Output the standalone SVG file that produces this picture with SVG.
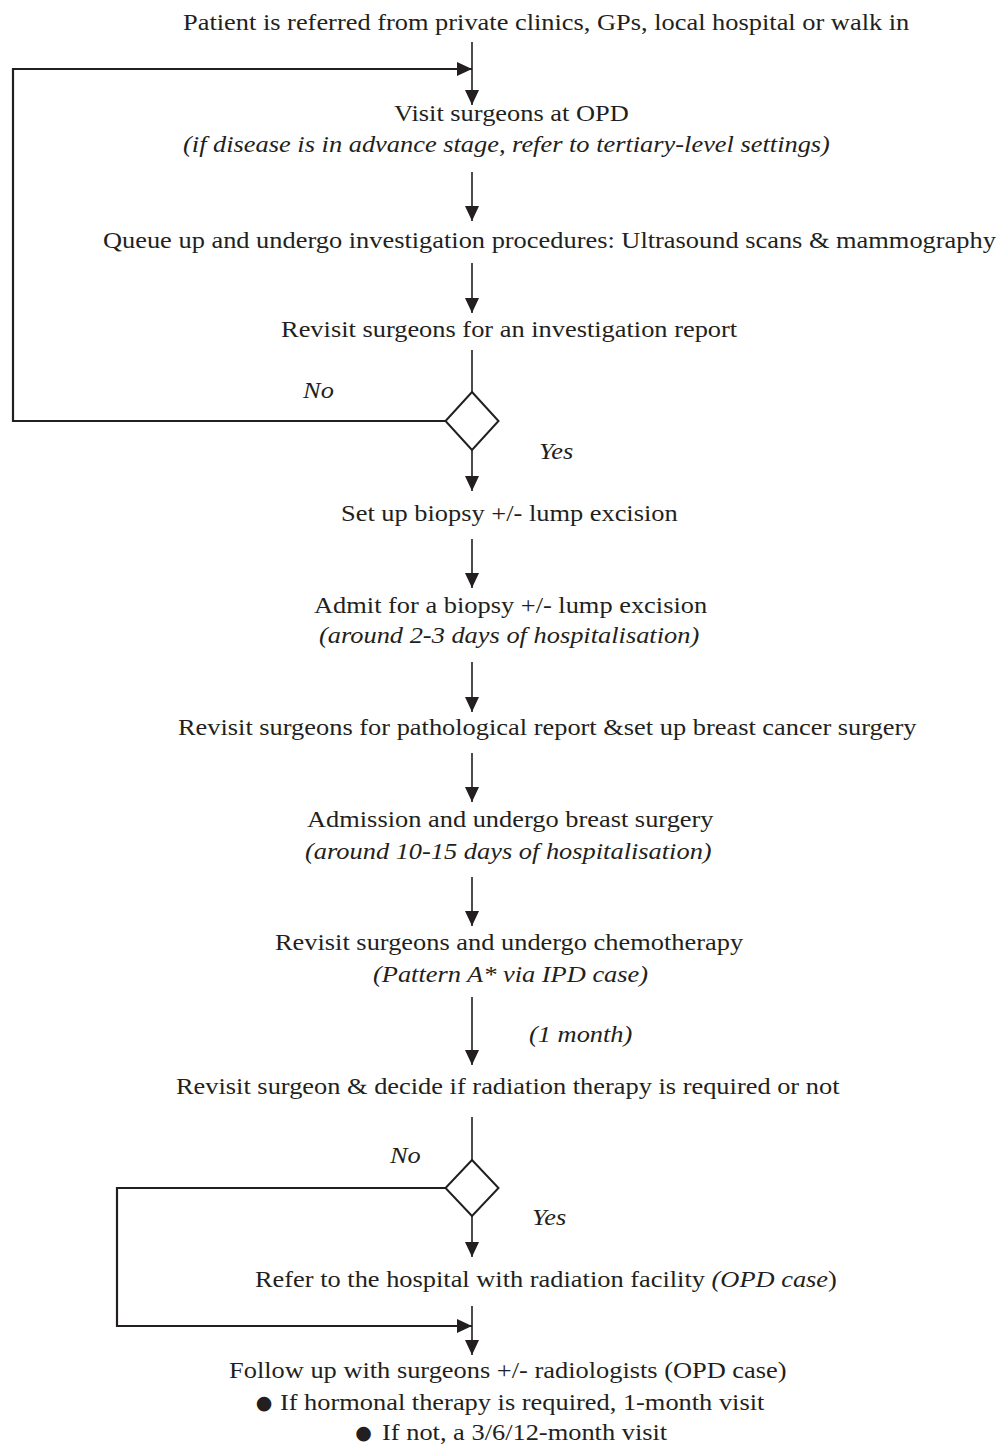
<svg xmlns="http://www.w3.org/2000/svg" width="1005" height="1446" viewBox="0 0 1005 1446">
<defs>
<marker id="ah" markerUnits="userSpaceOnUse" markerWidth="16" markerHeight="14" refX="15" refY="7" orient="auto">
<path d="M0,0 L15,7 L0,14 z" fill="#231f20"/>
</marker>
<style>
.t{font-family:"Liberation Serif","Times New Roman",serif;font-size:24px;fill:#231f20}
.i{font-style:italic}
.c{fill:none;stroke:#231f20;stroke-width:1.6}
.h{fill:none;stroke:#231f20;stroke-width:2.2}
.d{fill:#fff;stroke:#231f20;stroke-width:2}
.b{font-family:"DejaVu Sans",sans-serif;font-size:19px;fill:#231f20}
</style>
</defs>
<rect width="1005" height="1446" fill="#fff"/>
<g id="connectors">
<line class="c" x1="472" y1="42" x2="472" y2="105" marker-end="url(#ah)"/>
<polyline class="h" points="446,421 13,421 13,69 472,69" marker-end="url(#ah)"/>
<line class="c" x1="472" y1="172" x2="472" y2="221" marker-end="url(#ah)"/>
<line class="c" x1="472" y1="263" x2="472" y2="313" marker-end="url(#ah)"/>
<line class="c" x1="472" y1="350" x2="472" y2="392"/>
<line class="c" x1="472" y1="450" x2="472" y2="491" marker-end="url(#ah)"/>
<line class="c" x1="472" y1="539" x2="472" y2="588" marker-end="url(#ah)"/>
<line class="c" x1="472" y1="662" x2="472" y2="712" marker-end="url(#ah)"/>
<line class="c" x1="472" y1="753" x2="472" y2="802" marker-end="url(#ah)"/>
<line class="c" x1="472" y1="877" x2="472" y2="926" marker-end="url(#ah)"/>
<line class="c" x1="472" y1="997" x2="472" y2="1065" marker-end="url(#ah)"/>
<line class="c" x1="472" y1="1117" x2="472" y2="1160"/>
<line class="c" x1="472" y1="1216" x2="472" y2="1257" marker-end="url(#ah)"/>
<line class="c" x1="472" y1="1306" x2="472" y2="1355" marker-end="url(#ah)"/>
<polyline class="h" points="446,1188 117,1188 117,1326 472,1326" marker-end="url(#ah)"/>
</g>
<g id="decision1"><polygon class="d" points="472,392 498.5,421 472,450 445.5,421"/></g>
<g id="decision2"><polygon class="d" points="472,1160 498.5,1188 472,1216 445.5,1188"/></g>
<g transform="scale(1.1,1)">
<g id="start"><text class="t" x="166.4" y="30">Patient is referred from private clinics, GPs, local hospital or walk in</text></g>
<g id="visit"><text class="t" x="358.2" y="121">Visit surgeons at OPD</text>
<text class="t i" x="166.4" y="152">(if disease is in advance stage, refer to tertiary-level settings)</text></g>
<g id="queue"><text class="t" x="93.6" y="248">Queue up and undergo investigation procedures: Ultrasound scans &amp; mammography</text></g>
<g id="revisit1"><text class="t" x="255.5" y="337">Revisit surgeons for an investigation report</text></g>
<g id="labels1"><text class="t i" x="275.5" y="398">No</text><text class="t i" x="490" y="459">Yes</text></g>
<g id="setup"><text class="t" x="310" y="521">Set up biopsy +/- lump excision</text></g>
<g id="admit"><text class="t" x="285.5" y="613">Admit for a biopsy +/- lump excision</text>
<text class="t i" x="290" y="643">(around 2-3 days of hospitalisation)</text></g>
<g id="revisit2"><text class="t" x="161.8" y="735">Revisit surgeons for pathological report &amp;set up breast cancer surgery</text></g>
<g id="admission"><text class="t" x="279.1" y="827">Admission and undergo breast surgery</text>
<text class="t i" x="277.3" y="859">(around 10-15 days of hospitalisation)</text></g>
<g id="chemo"><text class="t" x="250" y="950">Revisit surgeons and undergo chemotherapy</text>
<text class="t i" x="339.1" y="982">(Pattern A* via IPD case)</text></g>
<g id="label-month"><text class="t i" x="480.9" y="1042">(1 month)</text></g>
<g id="revisit4"><text class="t" x="160" y="1094">Revisit surgeon &amp; decide if radiation therapy is required or not</text></g>
<g id="labels2"><text class="t i" x="354.5" y="1163">No</text><text class="t i" x="483.6" y="1225">Yes</text></g>
<g id="refer"><text class="t" x="231.8" y="1287">Refer to the hospital with radiation facility <tspan class="i">(OPD case</tspan>)</text></g>
<g id="follow"><text class="t" x="208.2" y="1378">Follow up with surgeons +/- radiologists (OPD case)</text>
<text class="t" x="254.5" y="1410">If hormonal therapy is required, 1-month visit</text>
<text class="t" x="347.3" y="1440">If not, a 3/6/12-month visit</text></g>
</g>
<g id="bullets">
<text class="b" x="264" y="1409" text-anchor="middle">●</text>
<text class="b" x="363.5" y="1439" text-anchor="middle">●</text>
</g>
</svg>
